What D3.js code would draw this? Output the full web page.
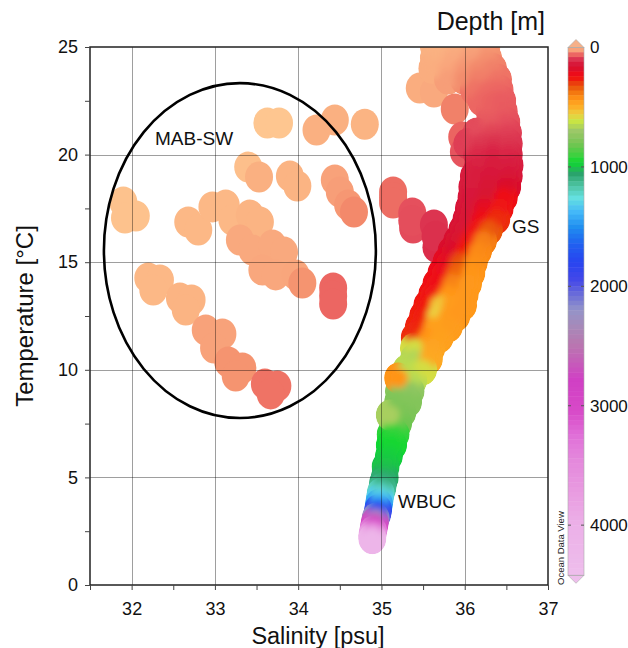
<!DOCTYPE html>
<html><head><meta charset="utf-8">
<script src="https://cdn.jsdelivr.net/npm/d3@7"></script>
<style>
body{margin:0;background:#fff;}
svg{display:block;font-family:"Liberation Sans", Arial, sans-serif;}
</style></head><body>
<svg id="chart" width="628" height="648"></svg>
<script>
// ---------- axis ticks ----------
const salinityTicks = [32, 33, 34, 35, 36, 37];
const salinityMinor = [31.5, 32.5, 33.5, 34.5, 35.5, 36.5];
const temperatureTicks = [0, 5, 10, 15, 20, 25];
const temperatureMinor = [2.5, 7.5, 12.5, 17.5, 22.5];
const depthTicks = [0, 1000, 2000, 3000, 4000];

// ---------- depth colour palette ----------
const paletteDepth = [0, 10, 20, 30, 45, 60, 80, 100, 130, 170, 220, 260, 320, 380, 430, 500, 560, 620, 700, 800, 900, 960,
  1060, 1160, 1260, 1380, 1500, 1650, 1800, 1950, 2080, 2200, 2350, 2480, 2620, 2780, 3050, 3250, 3450, 3700, 4000, 4420];
const paletteColor = ["#fec690", "#fbb483", "#f8a27a", "#f4906e", "#f07a66", "#ec6662", "#e44e5c", "#dc3450", "#d81c3e",
  "#d8102e", "#ec0c1a", "#f01810", "#e8500c", "#f47810", "#ff9418", "#fcb028", "#ecd040", "#c8e444", "#9cc868", "#78c454",
  "#40d040", "#10d830", "#2aa46c", "#50c4a4", "#64e0e0", "#44b8f8", "#2090f0", "#2060f0", "#2844f0", "#4448e8", "#6e70d8",
  "#9494c8", "#a888b8", "#b878b0", "#c460b8", "#d040c4", "#d84ac8", "#e070d8", "#e488dc", "#e89ae0", "#ecb0e8", "#eebeec"];

// ---------- shelf water samples and isolated bottles ----------
const shelfSalinity = [33.63, 33.77, 34.22, 34.44, 34.80, 33.40, 33.53, 33.90, 33.99, 34.44, 34.50, 34.60, 34.67,
  31.90, 32.05, 31.92, 32.68, 32.80, 32.97, 33.13, 33.21, 33.42, 33.54,
  33.30, 33.45, 33.69, 33.83, 33.57, 33.73, 33.97, 34.05, 34.42, 34.42, 34.42,
  32.20, 32.34, 32.26, 32.58, 32.72, 32.65,
  32.89, 33.09, 32.99, 33.16, 33.33, 33.25,
  33.60, 33.75, 33.67,
  35.14, 35.14, 35.14, 35.37, 35.38, 35.37, 35.63, 35.66, 35.65,
  35.46, 35.63, 35.88, 35.97, 35.99];
const shelfTemperature = [21.47, 21.47, 21.14, 21.61, 21.41, 19.42, 18.96, 19.00, 18.54, 18.82, 18.26, 17.66, 17.33,
  17.80, 17.15, 17.05, 16.87, 16.50, 17.57, 17.66, 16.96, 17.19, 16.87,
  16.03, 15.57, 15.80, 15.47, 14.64, 14.41, 14.41, 14.03, 13.80, 13.43, 13.06,
  14.27, 14.17, 13.71, 13.34, 13.24, 12.78,
  11.85, 11.66, 11.01, 10.36, 10.08, 9.71,
  9.34, 9.25, 8.88,
  18.26, 18.00, 17.75, 17.29, 16.59, 16.94, 16.73, 15.69, 16.21,
  23.09, 22.91, 22.12, 20.82, 20.12];
const shelfDepth = [0, 0, 12, 12, 10, 4, 12, 10, 10, 20, 22, 26, 35,
  2, 2, 2, 8, 8, 8, 8, 8, 10, 10,
  16, 16, 16, 16, 17, 17, 18, 28, 60, 60, 60,
  8, 8, 8, 10, 10, 10,
  20, 20, 20, 28, 28, 28,
  50, 50, 50,
  55, 55, 55, 78, 82, 80, 100, 110, 105,
  14, 16, 40, 62, 75];

// ---------- Gulf Stream / deep western boundary profile samples ----------
const gsSalinity = [
  35.63, 35.85, 36.06, 36.26,
  35.63, 35.85, 36.06, 36.28,
  35.61, 35.80, 35.99, 36.16, 36.34,
  35.80, 35.99, 36.16, 36.40,
  36.11, 36.28, 36.42,
  36.20, 36.33, 36.45,
  36.30, 36.47,
  36.30, 36.50,
  36.14, 36.33, 36.52,
  36.03, 36.20, 36.36, 36.53,
  36.15, 36.34, 36.53,
  36.16, 36.35, 36.54,
  36.11, 36.30, 36.53,
  36.09, 36.28, 36.51,
  36.08, 36.26, 36.47,
  36.05, 36.23, 36.42,
  36.02, 36.20, 36.38,
  35.97, 36.14, 36.29,
  35.91, 36.06, 36.22,
  35.84, 36.00, 36.16,
  35.78, 35.94, 36.11,
  35.72, 35.90, 36.08,
  35.66, 35.85, 36.04,
  35.61, 35.80, 36.00,
  35.55, 35.70, 35.85, 35.98,
  35.50, 35.66, 35.80, 35.90,
  35.45, 35.62, 35.81,
  35.40, 35.56, 35.70,
  35.39, 35.60,
  35.39, 35.57,
  35.30, 35.40, 35.50,
  35.25, 35.38,
  35.21, 35.35,
  35.20, 35.32,
  35.16, 35.25,
  35.14, 35.20,
  35.11, 35.17,
  35.10, 35.14,
  35.09, 35.05, 35.04, 35.02, 35.01, 34.99, 34.98, 34.97, 34.96, 34.95, 34.93, 34.92, 34.91, 34.90, 34.89, 34.89,
  35.20, 35.10];
const gsTemperature = [
  25.0, 25.0, 25.0, 25.0,
  24.5, 24.5, 24.5, 24.5,
  24.0, 24.0, 24.0, 24.0, 24.0,
  23.5, 23.5, 23.5, 23.5,
  23.0, 23.0, 23.0,
  22.5, 22.5, 22.5,
  22.0, 22.0,
  21.5, 21.5,
  21.0, 21.0, 21.0,
  20.5, 20.5, 20.5, 20.5,
  20.0, 20.0, 20.0,
  19.5, 19.5, 19.5,
  19.0, 19.0, 19.0,
  18.5, 18.5, 18.5,
  18.0, 18.0, 18.0,
  17.5, 17.5, 17.5,
  17.0, 17.0, 17.0,
  16.5, 16.5, 16.5,
  16.0, 16.0, 16.0,
  15.5, 15.5, 15.5,
  15.0, 15.0, 15.0,
  14.5, 14.5, 14.5,
  14.0, 14.0, 14.0,
  13.5, 13.5, 13.5,
  13.0, 13.0, 13.0, 13.0,
  12.5, 12.5, 12.5, 12.5,
  12.0, 12.0, 12.0,
  11.5, 11.5, 11.5,
  11.0, 11.0,
  10.5, 10.5,
  10.0, 10.0, 10.0,
  9.5, 9.5,
  9.0, 9.0,
  8.5, 8.5,
  8.0, 8.0,
  7.5, 7.5,
  7.0, 7.0,
  6.5, 6.5,
  6.0, 5.5, 5.0, 4.75, 4.5, 4.25, 4.0, 3.75, 3.5, 3.3, 3.1, 2.9, 2.7, 2.5, 2.3, 2.15,
  9.62, 7.9];
const gsDepth = [
  10, 12, 16, 22,
  12, 16, 22, 30,
  14, 18, 26, 34, 40,
  22, 32, 42, 50,
  50, 56, 60,
  60, 64, 68,
  66, 70,
  72, 78,
  82, 88, 90,
  92, 98, 104, 100,
  110, 120, 115,
  122, 130, 128,
  130, 140, 145,
  135, 150, 175,
  140, 160, 235,
  145, 200, 245,
  150, 230, 280,
  155, 240, 330,
  165, 250, 390,
  175, 260, 410,
  200, 320, 420,
  220, 350, 430,
  235, 400, 440,
  245, 430, 440,
  255, 540, 450, 440,
  265, 560, 450, 440,
  270, 460, 450,
  280, 430, 460,
  600, 470,
  660, 480,
  650, 640, 600,
  640, 650,
  760, 740,
  780, 770,
  800, 790,
  850, 820,
  930, 920,
  960, 950,
  980, 1000, 1040, 1080, 1120, 1220, 1320, 1450, 1750, 1900, 2250, 2700, 3000, 3400, 3800, 4150,
  430, 680];

// ---------- layout ----------
const svg = d3.select("#chart");
const plot = {left: 90, right: 548, top: 47, bottom: 585};
const x = d3.scaleLinear().domain([31.5, 37]).range([plot.left, plot.right]);
const y = d3.scaleLinear().domain([0, 25]).range([plot.bottom, plot.top]);
const color = d3.scaleLinear().domain(paletteDepth).range(paletteColor).clamp(true);
const dotRx = 14, dotRy = 15.5;

const defs = svg.append("defs");
defs.append("clipPath").attr("id", "plotClip")
  .append("rect").attr("x", plot.left).attr("y", plot.top)
  .attr("width", plot.right - plot.left).attr("height", plot.bottom - plot.top);
defs.append("filter").attr("id", "soft").attr("x", "-20%").attr("y", "-20%").attr("width", "140%").attr("height", "140%")
  .append("feGaussianBlur").attr("stdDeviation", 3.2);

const shelf = shelfSalinity.map((s, i) => ({s, t: shelfTemperature[i], d: shelfDepth[i]}));
const gs = gsSalinity.map((s, i) => ({s, t: gsTemperature[i], d: gsDepth[i]}));

// union of the profile dots, used to keep the smoothed colours inside a crisp outline
defs.append("clipPath").attr("id", "bandClip")
  .selectAll("ellipse").data(gs).join("ellipse")
  .attr("cx", d => x(d.s)).attr("cy", d => y(d.t)).attr("rx", dotRx).attr("ry", dotRy);

const dots = svg.append("g").attr("clip-path", "url(#plotClip)");

dots.append("g").selectAll("ellipse").data(shelf).join("ellipse")
  .attr("cx", d => x(d.s)).attr("cy", d => y(d.t)).attr("rx", dotRx).attr("ry", dotRy)
  .attr("fill", d => color(d.d));

const band = dots.append("g").attr("clip-path", "url(#bandClip)");
band.append("g").selectAll("ellipse").data(gs).join("ellipse")
  .attr("cx", d => x(d.s)).attr("cy", d => y(d.t)).attr("rx", dotRx).attr("ry", dotRy)
  .attr("fill", d => color(d.d));
band.append("g").attr("filter", "url(#soft)").selectAll("ellipse").data(gs).join("ellipse")
  .attr("cx", d => x(d.s)).attr("cy", d => y(d.t)).attr("rx", 10).attr("ry", 10)
  .attr("fill", d => color(d.d));

// ---------- grid ----------
const grid = svg.append("g").attr("stroke", "#000").attr("stroke-opacity", 0.38).attr("stroke-width", 1);
grid.selectAll("line.v").data(salinityTicks.filter(v => v < 37)).join("line")
  .attr("x1", d => Math.round(x(d)) + 0.5).attr("x2", d => Math.round(x(d)) + 0.5)
  .attr("y1", plot.top).attr("y2", plot.bottom);
grid.selectAll("line.h").data(temperatureTicks.filter(v => v > 0 && v < 25)).join("line")
  .attr("y1", d => Math.round(y(d)) + 0.5).attr("y2", d => Math.round(y(d)) + 0.5)
  .attr("x1", plot.left).attr("x2", plot.right);

// ---------- water mass outline and labels ----------
svg.append("ellipse")
  .attr("cx", x(33.30)).attr("cy", y(15.54))
  .attr("rx", x(33.30 + 1.633) - x(33.30)).attr("ry", y(15.54 - 7.78) - y(15.54))
  .attr("fill", "none").attr("stroke", "#000").attr("stroke-width", 2.6);

const notes = svg.append("g").attr("font-size", 19).attr("fill", "#111");
notes.append("text").attr("x", 155).attr("y", 145).text("MAB-SW");
notes.append("text").attr("x", 512).attr("y", 233).text("GS");
notes.append("text").attr("x", 398).attr("y", 508).text("WBUC");

// ---------- frame and axes ----------
svg.append("rect").attr("x", plot.left).attr("y", plot.top)
  .attr("width", plot.right - plot.left).attr("height", plot.bottom - plot.top)
  .attr("fill", "none").attr("stroke", "#222").attr("stroke-width", 1.5);

function styleAxis(g) {
  g.select(".domain").remove();
  g.selectAll(".tick line").attr("stroke", "#444");
  g.selectAll(".tick text").attr("fill", "#111").attr("font-size", 18)
    .attr("font-family", '"Liberation Sans", Arial, sans-serif');
}
svg.append("g").attr("transform", `translate(0,${plot.bottom})`)
  .call(d3.axisBottom(x).tickValues(salinityTicks).tickSize(5).tickPadding(12).tickFormat(d3.format("d")))
  .call(styleAxis);
svg.append("g").attr("transform", `translate(0,${plot.bottom})`)
  .call(d3.axisBottom(x).tickValues(salinityMinor).tickSize(5).tickFormat(""))
  .call(styleAxis);
svg.append("g").attr("transform", `translate(${plot.left},0)`)
  .call(d3.axisLeft(y).tickValues(temperatureTicks).tickSize(5).tickPadding(7).tickFormat(d3.format("d")))
  .call(styleAxis);
svg.append("g").attr("transform", `translate(${plot.left},0)`)
  .call(d3.axisLeft(y).tickValues(temperatureMinor).tickSize(5).tickFormat(""))
  .call(styleAxis);

svg.append("text").attr("x", 318).attr("y", 644)
  .attr("text-anchor", "middle").attr("font-size", 23.5).attr("fill", "#111").text("Salinity [psu]");
svg.append("text").attr("transform", `translate(33,316) rotate(-90)`)
  .attr("text-anchor", "middle").attr("font-size", 24).attr("fill", "#111").text("Temperature [°C]");

// ---------- colour bar ----------
const bar = {x: 568, w: 16};
const depthY = d3.scaleLinear().domain([0, 4420]).range([47.5, 575.3]);
const step = 40;
const bands = d3.range(0, 4420, step);
const cb = svg.append("g");
cb.selectAll("rect").data(bands).join("rect")
  .attr("x", bar.x).attr("width", bar.w)
  .attr("y", d => depthY(d)).attr("height", d => depthY(Math.min(d + step, 4420)) - depthY(d) + 0.5)
  .attr("fill", d => color(d + step / 2));
cb.append("path")
  .attr("d", `M${bar.x},${depthY(0)}L${bar.x + bar.w / 2},${depthY(0) - 8}L${bar.x + bar.w},${depthY(0)}Z`)
  .attr("fill", "#f6b088").attr("stroke", "#aaa").attr("stroke-width", 0.6);
cb.append("path")
  .attr("d", `M${bar.x},${depthY(4420)}L${bar.x + bar.w / 2},${depthY(4420) + 8}L${bar.x + bar.w},${depthY(4420)}Z`)
  .attr("fill", color(4420)).attr("stroke", "#aaa").attr("stroke-width", 0.6);
cb.append("rect").attr("x", bar.x).attr("y", depthY(0)).attr("width", bar.w)
  .attr("height", depthY(4420) - depthY(0)).attr("fill", "none").attr("stroke", "#aaa").attr("stroke-width", 0.6);
cb.selectAll("line.l").data(depthTicks.slice(1)).join("line")
  .attr("x1", bar.x).attr("x2", bar.x + 3).attr("y1", d => depthY(d)).attr("y2", d => depthY(d))
  .attr("stroke", "#555");
cb.selectAll("line.r").data(depthTicks.slice(1)).join("line")
  .attr("x1", bar.x + bar.w - 3).attr("x2", bar.x + bar.w).attr("y1", d => depthY(d)).attr("y2", d => depthY(d))
  .attr("stroke", "#555");
cb.selectAll("text").data(depthTicks).join("text")
  .attr("x", 590).attr("y", d => depthY(d)).attr("dy", "0.35em")
  .attr("font-size", 17).attr("fill", "#111").text(d => d);

svg.append("text").attr("x", 545).attr("y", 30).attr("text-anchor", "end")
  .attr("font-size", 25).attr("fill", "#111").text("Depth [m]");
svg.append("text").attr("transform", "translate(564,585) rotate(-90)")
  .attr("font-size", 9.5).attr("fill", "#222").text("Ocean Data View");
</script>
</body></html>
